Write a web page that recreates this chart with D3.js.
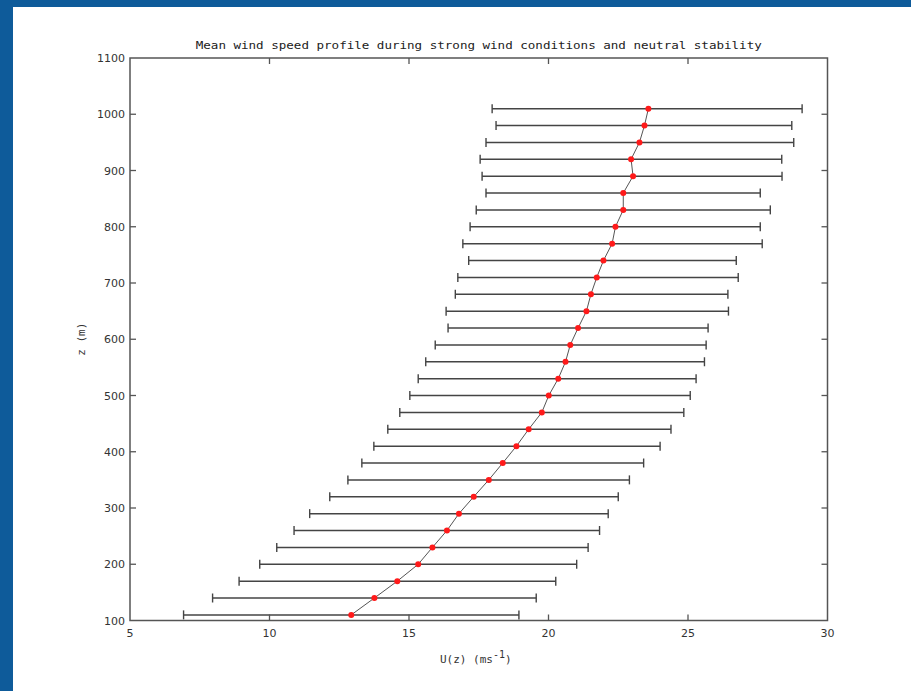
<!DOCTYPE html>
<html>
<head>
<meta charset="utf-8">
<script src="https://cdn.jsdelivr.net/npm/d3@7"></script>
<style>
  html, body { margin: 0; padding: 0; background: #0e5b9a; }
  svg { display: block; }
</style>
</head>
<body>
<div id="chart"></div>
<script>
// heights (m), bottom to top
const heights = [110,140,170,200,230,260,290,320,350,380,410,440,470,500,530,560,590,620,650,680,710,740,770,800,830,860,890,920,950,980,1010];
// mean wind speed U(z), m/s
const meanU = [12.93,13.76,14.58,15.33,15.84,16.36,16.79,17.32,17.86,18.36,18.85,19.29,19.76,20.01,20.35,20.61,20.78,21.06,21.36,21.52,21.73,21.97,22.28,22.40,22.68,22.68,23.03,22.96,23.26,23.44,23.58];
// lower / upper end of the error bars
const lowU = [6.92,7.96,8.91,9.65,10.26,10.88,11.44,12.16,12.81,13.31,13.74,14.24,14.67,15.03,15.33,15.60,15.94,16.40,16.33,16.66,16.75,17.14,16.93,17.19,17.41,17.76,17.62,17.55,17.76,18.12,17.98];
const highU = [18.94,19.56,20.26,21.01,21.42,21.83,22.14,22.50,22.90,23.41,24.00,24.39,24.85,25.08,25.29,25.59,25.65,25.72,26.45,26.43,26.80,26.73,27.66,27.59,27.95,27.59,28.37,28.36,28.79,28.72,29.09];

const xTicks = [5,10,15,20,25,30];
const yTicks = [100,200,300,400,500,600,700,800,900,1000,1100];

const W = 911, H = 691;
const axisCol = '#555';
const textCol = '#333';

const svg = d3.select('#chart').append('svg').attr('width', W).attr('height', H);

// blue frame, white page
svg.append('rect').attr('x', 0).attr('y', 0).attr('width', W).attr('height', H).attr('fill', '#0e5b9a');
svg.append('rect').attr('x', 13).attr('y', 7).attr('width', W - 13).attr('height', H - 7).attr('fill', '#fff');

const x = d3.scaleLinear().domain([5, 30]).range([130, 827.5]);
const y = d3.scaleLinear().domain([100, 1100]).range([620.5, 58]);

const g = svg.append('g');

// error bars
const bars = g.selectAll('.eb').data(heights).enter().append('g').attr('class', 'eb');
bars.append('line')
  .attr('x1', (d, i) => x(lowU[i])).attr('x2', (d, i) => x(highU[i]))
  .attr('y1', d => y(d)).attr('y2', d => y(d))
  .attr('stroke', '#444').attr('stroke-width', 1.5);
bars.append('line')
  .attr('x1', (d, i) => x(lowU[i])).attr('x2', (d, i) => x(lowU[i]))
  .attr('y1', d => y(d) - 4.5).attr('y2', d => y(d) + 4.5)
  .attr('stroke', '#444').attr('stroke-width', 1.4);
bars.append('line')
  .attr('x1', (d, i) => x(highU[i])).attr('x2', (d, i) => x(highU[i]))
  .attr('y1', d => y(d) - 4.5).attr('y2', d => y(d) + 4.5)
  .attr('stroke', '#444').attr('stroke-width', 1.4);

// mean profile line
const line = d3.line().x((d, i) => x(meanU[i])).y(d => y(d));
g.append('path').datum(heights).attr('d', line)
  .attr('fill', 'none').attr('stroke', '#555').attr('stroke-width', 1);

// red markers
g.selectAll('.dot').data(heights).enter().append('circle')
  .attr('cx', (d, i) => x(meanU[i])).attr('cy', d => y(d))
  .attr('r', 3).attr('fill', '#ff1a1a');

// axes box with inward ticks on all sides
const x0 = x.range()[0], x1 = x.range()[1], y0 = y.range()[0], y1 = y.range()[1];
svg.append('rect').attr('x', x0).attr('y', y1).attr('width', x1 - x0).attr('height', y0 - y1)
  .attr('fill', 'none').attr('stroke', axisCol).attr('stroke-width', 1.5);

const tl = 6;
xTicks.slice(1, -1).forEach(t => {
  svg.append('line').attr('x1', x(t)).attr('x2', x(t)).attr('y1', y0).attr('y2', y0 - tl)
    .attr('stroke', axisCol).attr('stroke-width', 1.3);
  svg.append('line').attr('x1', x(t)).attr('x2', x(t)).attr('y1', y1).attr('y2', y1 + tl)
    .attr('stroke', axisCol).attr('stroke-width', 1.3);
});
yTicks.slice(1, -1).forEach(t => {
  svg.append('line').attr('x1', x0).attr('x2', x0 + tl).attr('y1', y(t)).attr('y2', y(t))
    .attr('stroke', axisCol).attr('stroke-width', 1.3);
  svg.append('line').attr('x1', x1).attr('x2', x1 - tl).attr('y1', y(t)).attr('y2', y(t))
    .attr('stroke', axisCol).attr('stroke-width', 1.3);
});

// tick labels
svg.selectAll('.xl').data(xTicks).enter().append('text')
  .attr('x', d => x(d)).attr('y', y0 + 16)
  .attr('text-anchor', 'middle')
  .style('font-family', 'DejaVu Sans, sans-serif').style('font-size', '11px').style('fill', textCol)
  .text(d => d);
svg.selectAll('.yl').data(yTicks).enter().append('text')
  .attr('x', x0 - 5).attr('y', d => y(d) + 4)
  .attr('text-anchor', 'end')
  .style('font-family', 'DejaVu Sans, sans-serif').style('font-size', '11px').style('fill', textCol)
  .text(d => d);

// title
svg.append('text').attr('x', (x0 + x1) / 2).attr('y', 49)
  .attr('text-anchor', 'middle')
  .attr('textLength', 566).attr('lengthAdjust', 'spacingAndGlyphs')
  .style('font-family', 'DejaVu Sans Mono, monospace').style('font-size', '10px').style('fill', '#222')
  .text('Mean wind speed profile during strong wind conditions and neutral stability');

// x label
const xl = svg.append('text').attr('x', (x0 + x1) / 2 - 3).attr('y', 663)
  .attr('text-anchor', 'middle')
  .style('font-family', 'DejaVu Sans Mono, monospace').style('font-size', '11px').style('fill', textCol);
xl.append('tspan').text('U(z) (ms');
xl.append('tspan').attr('dy', -5).style('font-size', '10px').text('-1');
xl.append('tspan').attr('dy', 5).text(')');

// y label
svg.append('text')
  .attr('transform', 'translate(' + 85 + ',' + ((y0 + y1) / 2) + ') rotate(-90)')
  .attr('text-anchor', 'middle')
  .style('font-family', 'DejaVu Sans Mono, monospace').style('font-size', '11px').style('fill', textCol)
  .text('z (m)');
</script>
</body>
</html>
